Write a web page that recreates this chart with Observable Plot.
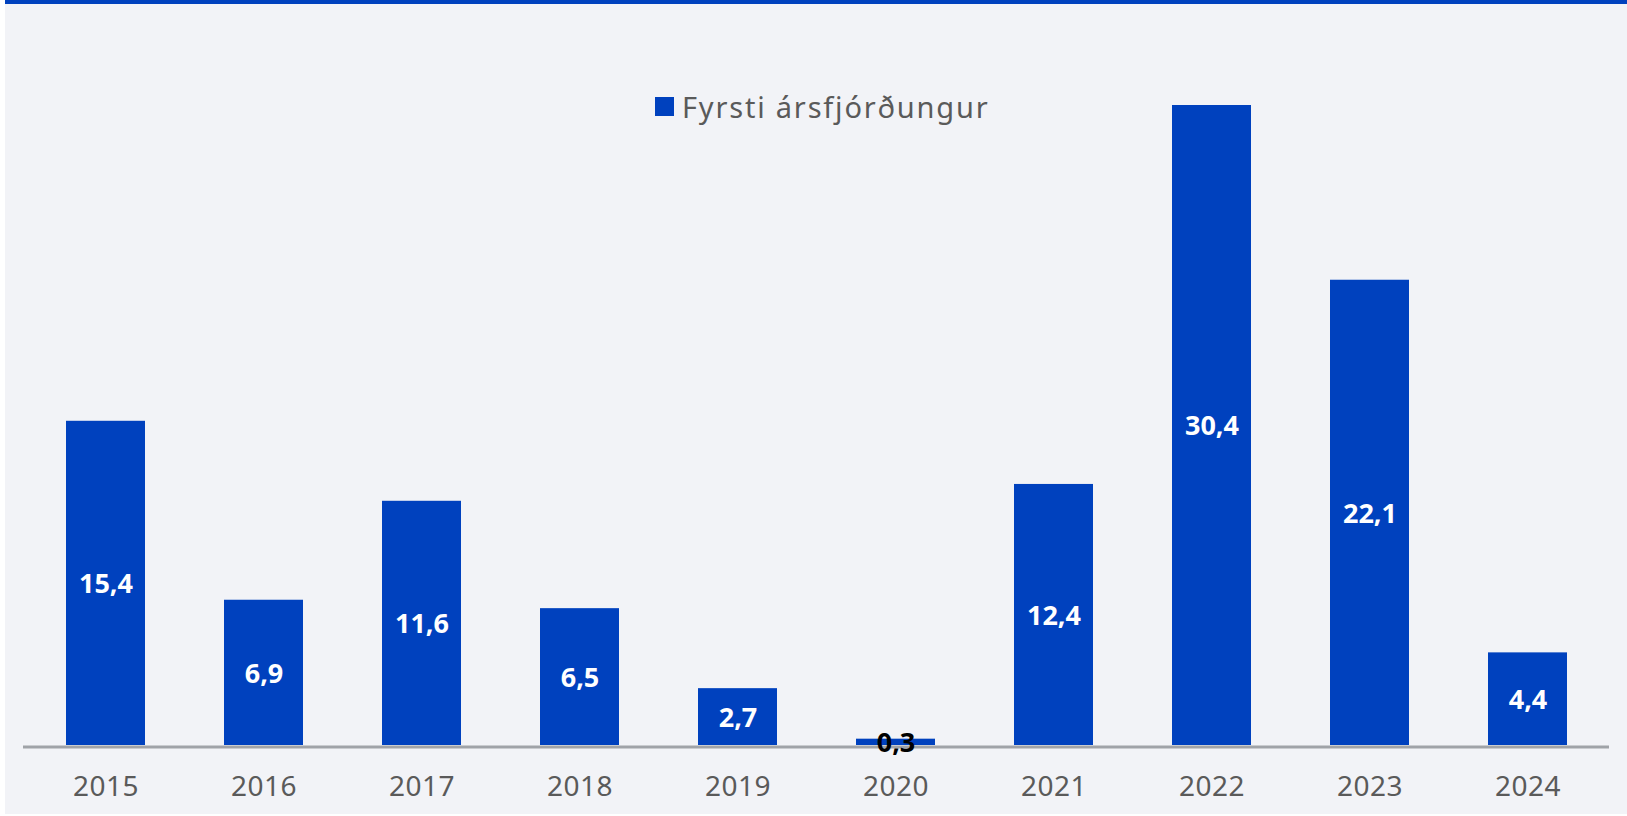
<!DOCTYPE html>
<html>
<head>
<meta charset="utf-8">
<script src="https://cdn.jsdelivr.net/npm/d3@7"></script>
<script src="https://cdn.jsdelivr.net/npm/@observablehq/plot@0.6"></script>
<style>
  html, body { margin: 0; padding: 0; background: #ffffff; }
  body { width: 1627px; height: 816px; position: relative; overflow: hidden; font-family: "Noto Sans", sans-serif; }
  #panel { position: absolute; left: 5px; top: 0; width: 1622px; height: 810px; background: #f2f3f7; border-top: 4px solid #0041be; }
  #chart { position: absolute; left: 0; top: 0; }
  #legend { position: absolute; left: 655px; top: 87px; display: flex; align-items: center; font-size: 29px; color: #5a5a5a; letter-spacing: 1.8px; }
  #legend .sw { width: 19px; height: 19px; background: #0041be; margin-right: 8px; }
</style>
</head>
<body>
<div id="panel"></div>
<div id="chart"></div>
<div id="legend"><span class="sw"></span><span>Fyrsti ársfjórðungur</span></div>
<script>
const years = ["2015","2016","2017","2018","2019","2020","2021","2022","2023","2024"];
const values = [15.4, 6.9, 11.6, 6.5, 2.7, 0.3, 12.4, 30.4, 22.1, 4.4];
const seriesName = "Fyrsti ársfjórðungur";

const data = years.map((y, i) => ({year: y, value: values[i]}));
const fmt = v => v.toFixed(1).replace(".", ",");

const plot = Plot.plot({
  width: 1627,
  height: 816,
  marginLeft: 23,
  marginRight: 18,
  marginTop: 105,
  marginBottom: 71,
  style: {background: "transparent", fontFamily: "Noto Sans, sans-serif", overflow: "visible"},
  x: {domain: years, paddingInner: 0.5, paddingOuter: 0.25, label: null},
  y: {domain: [0, d3.max(values)], axis: null},
  marks: [
    Plot.barY(data, {x: "year", y: "value", fill: "#0041be"}),
    Plot.ruleY([0], {stroke: "#a0a3a8", strokeWidth: 3, dy: 1.5}),
    Plot.text(data, {
      x: "year", y: d => d.value / 2, text: d => fmt(d.value),
      fill: d => d.value < 1 ? "#000000" : "#ffffff",
      fontSize: 27, fontWeight: 700, dy: 1
    }),
    Plot.axisX({tickSize: 0, tickPadding: 31, fontSize: 28, fill: "#5a5a5a", label: null})
  ]
});
plot.querySelectorAll("[aria-label='x-axis tick label'] text").forEach(t => t.style.letterSpacing = "0.5px");
document.getElementById("chart").appendChild(plot);
</script>
</body>
</html>
